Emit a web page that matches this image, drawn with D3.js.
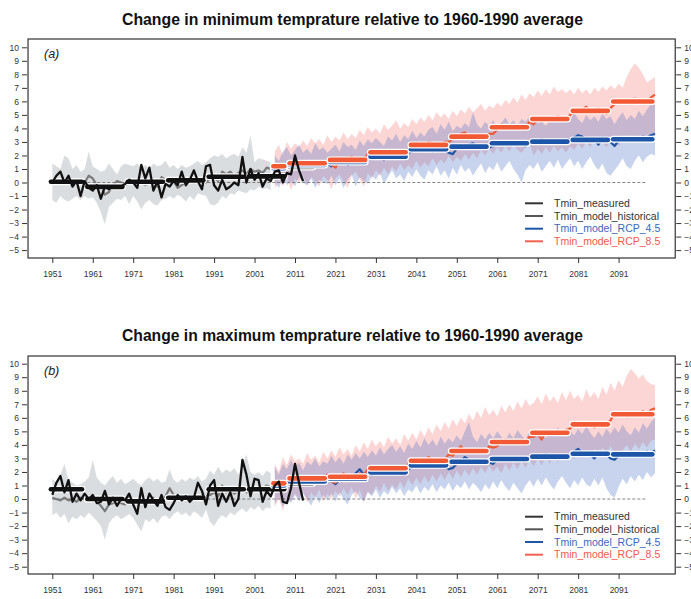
<!DOCTYPE html>
<html><head><meta charset="utf-8">
<script src="https://cdn.jsdelivr.net/npm/d3@7"></script>
<style>body{margin:0;background:#fff}svg{display:block}text{font-family:"Liberation Sans",Arial,sans-serif}</style>
</head><body><svg id="c" width="691" height="599"></svg>
<script>
// ---------------- DATA ----------------
const measStart = 1951, histStart = 1951, rcpStart = 2006;
const xTicks = [1951,1961,1971,1981,1991,2001,2011,2021,2031,2041,2051,2061,2071,2081,2091];
const yTicks = [-5,-4,-3,-2,-1,0,1,2,3,4,5,6,7,8,9,10];
const titles = ["Change in minimum temprature relative to 1960-1990 average","Change in maximum temprature relative to 1960-1990 average"];
const panelLabels = ["(a)","(b)"];
const legendLabels = ["Tmin_measured","Tmin_model_historical","Tmin_model_RCP_4.5","Tmin_model_RCP_8.5"];

// Panel (a) Tmin
const tminMeasured = [0.0,0.5,0.8,0.0,0.5,-0.3,0.1,-1.0,0.1,-0.4,
 -0.6,-0.2,-1.2,-0.3,-0.5,-0.3,-0.4,-0.3,-0.1,0.2,
 0.0,-0.4,1.3,0.3,1.1,-0.6,0.1,-1.1,-0.1,-0.3,
 0.1,-0.2,0.8,-0.2,0.2,0.9,0.1,-0.5,1.2,1.3,
 -0.2,-0.6,0.2,-0.5,-0.3,0.0,-0.2,1.9,0.0,1.0,
 0.2,0.7,-0.3,0.3,0.1,0.8,0.9,0.0,0.7,0.6,
 2.0,0.9,0.1];
const tminHist = [-0.1,0.1,-0.1,0.2,0.0,-0.2,0.1,-0.1,0.0,0.5,
 0.3,-0.2,-0.3,-0.9,-0.7,-0.2,0.1,0.0,-0.2,0.1,
 -0.1,0.2,0.0,-0.2,0.1,-0.1,-0.3,0.4,0.2,0.0,
 0.1,-0.4,-0.2,0.1,0.2,0.0,0.3,0.2,0.0,0.3,
 0.4,0.1,0.8,0.6,0.8,0.5,0.7,0.9,0.6,1.0,
 0.8,0.9,0.7,1.1,1.0];
const tminHistHi = [1.4,1.2,1.0,2.0,1.8,1.0,1.3,0.8,1.0,2.3,
 1.2,1.0,0.8,0.9,1.4,1.0,0.6,1.2,1.4,1.3,
 1.2,1.4,1.1,1.3,1.0,1.4,1.2,1.3,1.6,1.1,
 1.3,1.0,1.3,1.1,1.2,1.4,1.6,1.3,1.5,1.8,
 2.0,1.9,2.1,1.8,2.0,2.1,1.9,2.6,2.2,3.5,
 1.5,1.8,1.7,1.6,1.5];
const tminHistLo = [-1.3,-1.5,-1.0,-1.3,-1.4,-1.2,-1.0,-1.3,-1.0,-1.2,
 -1.1,-1.5,-2.2,-3.1,-1.8,-1.5,-1.2,-1.3,-1.0,-1.6,
 -1.0,-1.4,-2.0,-1.5,-1.3,-1.6,-1.7,-1.3,-1.2,-1.0,
 -1.2,-0.9,-1.1,-1.4,-1.0,-1.3,-0.8,-0.9,-1.0,-1.6,
 -1.7,-1.5,-1.0,-1.2,-0.8,-0.9,-0.6,-0.7,-0.8,-0.5,
 -0.6,-0.3,-0.5,-0.4,-0.6];
const tminRcp45 = [0.9,1.3,1.0,1.2,
 1.5,1.3,1.4,1.1,1.3,1.2,1.4,1.3,1.2,1.4,
 1.2,1.6,1.4,1.7,1.3,1.5,1.6,1.8,1.5,1.7,
 1.8,2.0,1.9,1.7,2.0,2.1,1.9,1.8,2.0,2.2,
 2.3,2.5,2.6,2.4,2.5,2.3,2.6,2.5,2.4,2.2,
 2.1,2.5,2.7,2.6,2.8,2.9,2.7,2.6,2.8,2.6,
 2.7,2.9,3.0,2.8,2.9,3.0,2.8,2.9,2.7,3.0,
 3.0,3.1,3.2,2.9,3.0,3.1,2.9,3.0,3.1,3.2,
 3.3,3.5,3.4,3.1,3.0,3.2,2.8,3.3,3.2,3.0,
 2.7,3.1,3.3,3.2,3.3,3.1,3.2,3.4,3.3,3.5,
 3.6];
const tminRcp45Hi = [2.0,1.6,2.3,2.6,
 2.0,2.4,2.8,2.2,2.5,2.1,2.9,2.4,2.6,2.2,
 2.5,2.8,2.3,3.0,2.6,2.8,2.4,3.1,2.7,3.2,
 2.9,3.3,3.0,2.7,3.4,3.1,3.6,3.0,3.5,3.2,
 3.8,3.3,3.7,3.4,3.9,4.1,3.6,4.3,3.9,4.5,
 3.8,4.2,4.0,4.4,4.1,5.2,4.3,4.0,4.5,4.2,
 4.6,4.1,4.4,4.8,4.3,4.6,4.2,4.7,4.5,4.9,
 4.4,4.8,4.5,4.2,4.6,5.0,4.4,4.7,4.9,4.5,
 5.2,4.7,4.4,5.0,4.6,4.9,4.5,5.1,4.7,4.9,
 4.3,4.8,5.2,4.6,5.0,4.7,5.3,4.9,5.4,5.8,
 6.0];
const tminRcp45Lo = [0.0,-0.4,0.3,-0.2,
 0.1,-0.3,0.4,0.0,-0.2,0.3,-0.4,0.2,0.0,-0.1,
 0.5,-0.2,0.3,-0.4,0.2,0.6,-0.3,0.4,0.1,-0.1,
 0.5,0.2,0.7,-0.1,0.4,0.9,0.3,0.6,0.1,0.8,
 0.4,1.0,0.5,0.2,0.9,0.6,1.2,0.5,0.9,0.3,
 1.1,0.6,1.3,0.8,1.1,0.5,1.0,1.4,0.7,1.2,
 0.9,1.5,0.8,1.2,1.6,1.0,0.6,0.0,0.9,1.3,
 1.0,1.5,0.8,1.2,1.6,1.1,1.7,1.0,1.4,1.8,
 1.2,1.6,1.0,1.5,1.9,1.3,0.9,1.4,0.7,0.5,
 0.9,1.3,1.8,1.2,1.0,1.6,2.0,1.5,1.9,2.1,
 2.0];
const tminRcp85 = [1.0,1.4,1.2,1.3,
 1.5,1.4,1.3,1.6,1.4,1.5,1.3,1.4,1.5,1.6,
 1.3,1.1,1.6,1.8,1.7,1.9,1.6,1.8,1.7,2.1,
 2.3,2.2,2.4,2.1,2.3,2.2,2.1,2.3,2.2,2.5,
 2.5,2.9,2.8,2.7,3.0,2.9,2.7,2.8,3.0,3.0,
 3.2,3.4,3.6,3.7,3.3,3.5,3.2,3.4,3.3,3.6,
 3.6,3.9,4.3,4.0,4.2,4.1,4.2,4.0,4.1,4.5,
 4.3,4.7,4.5,4.8,4.6,4.7,4.9,4.7,4.6,5.0,
 5.3,5.2,5.4,5.6,5.3,5.2,5.5,5.3,5.1,5.5,
 5.8,6.1,5.9,6.0,5.8,6.2,6.0,6.1,5.9,6.3,
 6.5];
const tminRcp85Hi = [2.3,2.8,2.0,3.0,
 2.5,2.9,2.6,3.1,2.7,3.3,2.9,3.2,2.8,3.5,
 3.0,3.4,3.1,3.7,3.2,3.6,3.3,3.9,3.5,4.1,
 3.7,4.0,3.6,4.3,3.9,4.2,4.6,4.0,4.4,4.1,
 4.7,4.3,4.8,4.5,5.0,4.6,5.2,4.8,5.1,4.7,
 5.3,4.9,5.4,5.1,5.6,5.2,5.5,5.8,5.3,5.7,
 5.5,5.9,5.6,6.1,5.8,6.3,5.9,6.5,6.1,6.6,
 6.3,6.8,6.4,6.9,6.5,7.1,6.7,6.9,6.6,6.9,
 6.5,7.0,6.6,6.9,6.5,7.0,6.7,7.1,6.8,7.2,
 6.9,7.3,7.0,7.8,8.4,8.8,8.5,8.0,7.4,7.6,
 7.8];
const tminRcp85Lo = [-0.5,0.2,-0.3,0.4,
 -0.6,0.3,0.0,0.5,-0.2,0.4,0.1,-0.3,0.5,0.2,
 -0.5,0.3,0.6,0.1,-0.4,0.5,0.8,0.2,-0.3,0.7,
 0.3,0.9,0.5,1.1,0.6,1.2,0.8,1.4,0.9,1.3,
 1.0,1.6,1.1,1.5,1.2,1.8,1.3,1.7,1.4,2.0,
 1.5,1.9,1.6,2.1,1.7,2.2,1.8,2.4,2.0,2.5,
 2.1,2.6,2.2,2.7,2.3,2.8,2.4,2.2,2.6,2.9,
 2.0,2.5,2.1,2.6,2.2,2.7,2.3,2.6,2.2,2.7,
 2.4,2.9,2.5,3.0,2.6,3.1,2.7,3.0,2.6,3.1,
 2.9,2.7,3.2,3.5,3.0,3.4,3.1,3.5,3.2,3.6,
 3.7];

// Panel (b) Tmax
const tmaxMeasured = [0.3,1.2,1.7,0.5,1.4,-0.2,0.4,-0.1,0.4,0.0,
 0.3,-0.3,-0.2,0.6,-0.4,0.1,-0.5,0.0,-0.1,0.4,
 -0.4,-1.1,0.8,-0.6,0.4,-0.1,-0.5,0.3,-0.6,-0.8,
 -0.3,0.3,-0.1,0.2,-0.2,0.1,1.2,0.6,-0.4,1.0,
 1.4,-0.5,0.4,-0.2,0.5,-0.5,0.0,2.9,1.8,0.2,
 1.5,1.4,-0.2,0.6,0.2,1.0,1.3,-0.2,-0.3,0.8,
 2.6,1.2,-0.1];
const tmaxHist = [0.1,0.0,-0.1,0.1,-0.1,0.0,-0.2,0.1,0.0,-0.1,
 0.2,-0.2,-0.5,-0.9,-0.4,-0.3,-0.1,-0.3,-0.4,0.1,
 -0.2,0.0,-0.3,-0.1,-0.2,0.1,-0.2,-0.3,0.2,0.8,
 0.3,0.0,0.2,-0.1,0.3,0.2,0.1,0.3,0.2,0.3,
 0.5,0.2,1.0,0.5,0.7,0.4,0.6,0.8,0.5,0.7,
 0.9,0.6,0.8,1.0,0.9];
const tmaxHistHi = [1.5,1.2,1.8,2.6,1.4,1.2,1.0,1.1,1.3,1.6,
 2.9,1.6,1.2,1.0,1.4,1.7,1.2,1.5,1.1,1.3,
 1.5,1.2,1.0,1.4,1.6,1.3,1.5,1.2,1.3,2.2,
 1.4,1.2,1.5,1.3,1.6,1.4,1.7,1.3,1.5,2.1,
 1.8,2.4,1.9,2.2,2.0,2.3,1.8,2.5,3.3,2.0,
 1.8,2.0,1.7,2.1,1.9];
const tmaxHistLo = [-1.2,-1.0,-1.4,-1.1,-1.8,-1.3,-1.5,-1.2,-1.4,-1.0,
 -1.3,-1.6,-2.0,-3.0,-1.8,-1.4,-1.2,-1.5,-1.3,-1.1,
 -1.4,-1.9,-2.4,-1.5,-1.7,-1.4,-1.8,-1.3,-1.2,-1.5,
 -1.1,-0.9,-1.2,-1.0,-1.3,-0.9,-1.1,-1.4,-0.8,-1.7,
 -2.0,-1.5,-1.2,-1.4,-1.0,-1.2,-0.9,-0.7,-1.0,-0.6,
 -0.8,-0.5,-0.9,-0.6,-0.7];
const tmaxRcp45 = [0.9,1.2,0.8,1.1,
 1.4,1.2,1.3,1.1,1.4,1.2,1.5,1.3,1.2,1.4,
 1.3,1.1,1.4,1.6,1.5,1.7,1.9,2.2,1.8,1.9,
 1.8,2.0,2.1,1.9,2.0,2.2,1.9,2.0,1.8,2.2,
 2.4,2.5,2.6,2.5,2.4,2.6,2.5,2.4,2.5,2.2,
 2.3,2.6,2.8,3.1,2.9,2.7,2.8,2.6,2.9,2.7,
 2.6,2.9,3.0,3.1,2.9,3.0,2.8,2.9,3.0,3.1,
 3.0,3.2,3.1,3.3,3.0,3.1,3.2,3.1,3.0,3.2,
 3.5,3.7,3.4,3.2,3.3,3.0,3.4,3.2,3.3,3.0,
 2.9,3.2,3.3,3.4,3.3,3.2,3.4,3.3,3.5,3.4,
 3.6];
const tmaxRcp45Hi = [2.4,1.8,2.6,2.2,
 2.9,2.3,2.7,2.1,2.8,2.5,3.0,2.4,2.8,2.6,
 3.2,2.7,3.1,2.6,3.3,2.9,3.4,3.0,3.5,3.1,
 3.6,3.2,3.8,3.3,3.7,4.0,3.5,3.9,3.4,4.1,
 3.7,4.3,3.8,4.5,4.0,4.4,3.9,4.6,4.1,4.5,
 4.2,4.7,4.3,5.0,5.7,4.6,4.2,4.8,4.4,4.9,
 4.5,5.0,4.6,4.3,4.9,4.5,5.1,4.7,4.4,5.0,
 4.6,5.2,4.8,4.5,5.0,4.7,5.3,4.9,4.6,5.1,
 4.7,5.2,4.8,5.4,4.9,4.5,5.0,4.6,5.2,4.8,
 5.3,4.9,5.5,5.0,4.7,5.3,4.9,5.6,5.2,5.7,
 6.0];
const tmaxRcp45Lo = [-0.4,0.2,-0.6,0.1,
 -0.3,0.3,-0.2,0.4,0.0,-0.5,0.2,-0.3,0.3,-0.1,
 0.4,-0.2,0.5,0.0,-0.4,0.3,0.6,0.1,-0.2,0.5,
 0.2,0.7,0.1,0.6,0.3,0.9,0.4,0.8,0.2,0.7,
 0.5,1.0,0.4,0.9,0.6,1.1,0.5,1.0,0.7,1.2,
 0.6,1.1,0.8,1.3,0.7,1.2,0.9,0.5,1.1,0.7,
 1.3,0.8,1.4,0.9,0.6,1.2,0.8,0.4,1.0,1.4,
 0.9,1.5,1.0,1.6,1.1,0.7,1.3,1.7,1.2,0.8,
 1.4,1.0,1.6,1.1,0.9,1.5,1.0,1.6,0.8,0.3,
 0.1,0.9,1.5,1.1,1.7,1.3,1.8,1.4,2.0,1.6,
 1.9];
const tmaxRcp85 = [1.0,1.3,1.2,1.4,
 1.4,1.6,1.5,1.7,1.4,1.5,1.6,1.5,1.4,1.8,
 1.3,1.2,1.6,1.9,1.7,1.8,1.6,1.9,1.8,2.2,
 2.4,2.2,2.3,2.1,2.4,2.3,2.2,2.4,2.0,2.6,
 2.6,3.0,2.9,2.8,3.1,2.9,2.7,3.0,2.9,3.3,
 3.2,3.6,3.9,3.5,3.7,3.4,3.6,3.5,3.4,3.9,
 3.8,3.9,4.3,4.4,4.2,4.3,4.1,4.4,4.2,4.6,
 4.6,4.8,4.4,5.0,4.9,5.0,4.8,4.9,5.1,5.2,
 5.6,5.4,5.6,5.5,5.7,5.3,5.5,5.4,5.6,5.8,
 6.4,6.2,6.3,6.1,6.4,6.2,6.3,6.5,6.2,6.6,
 6.7];
const tmaxRcp85Hi = [2.6,2.0,3.1,2.5,
 3.3,2.8,3.0,2.6,3.4,2.9,3.2,2.7,3.5,3.0,
 3.6,3.1,3.8,3.3,3.7,3.2,4.0,3.5,4.2,3.7,
 4.4,3.9,4.3,3.8,4.6,4.1,4.5,4.0,4.8,4.3,
 4.9,4.4,5.1,4.6,5.3,4.8,5.5,5.0,5.7,5.2,
 5.9,5.4,6.0,5.6,6.3,5.8,6.5,6.0,6.8,6.2,
 6.6,6.1,6.9,6.4,7.0,6.5,7.2,6.7,7.4,6.9,
 7.1,7.6,7.0,7.8,7.2,7.6,7.1,7.9,7.3,8.0,
 7.4,7.7,7.2,8.1,7.5,7.9,7.4,8.3,7.7,8.6,
 8.0,8.8,8.3,9.1,9.6,9.3,8.9,9.2,8.7,8.5,
 8.4];
const tmaxRcp85Lo = [-0.6,0.1,-0.9,0.2,
 -0.2,0.4,0.0,0.6,-0.3,0.5,0.1,0.7,-0.2,0.4,
 0.0,0.6,0.2,0.8,0.3,0.9,0.0,0.7,-0.2,0.6,
 0.3,1.0,0.5,1.2,0.6,1.1,0.7,1.3,0.8,1.5,
 1.0,1.6,1.1,1.7,1.2,1.8,1.3,1.9,1.4,2.0,
 1.5,2.1,1.6,2.2,1.7,2.3,1.8,2.4,1.9,2.5,
 2.0,2.4,1.9,2.6,2.1,2.7,2.2,2.8,2.3,2.9,
 2.4,3.0,2.5,3.1,2.6,3.2,2.7,3.3,2.8,3.4,
 2.9,3.5,3.0,3.6,3.1,3.7,3.2,3.8,3.3,3.9,
 3.4,3.0,3.6,4.0,3.5,4.1,3.7,4.2,3.8,4.3,
 4.4];

// decadal means
const histPeriods = [[1951,1958],[1960,1968],[1970,1978],[1980,1988],[1990,1998],[2000,2008]];
const recentPeriods = [[2010,2015]];
const rcpPeriods = [[2006,2008],[2010,2018],[2020,2028],[2030,2038],[2040,2048],[2050,2058],[2060,2068],[2070,2078],[2080,2088],[2090,2099]];
const tminMeasDec = [0.06,-0.32,0.06,0.16,0.42,0.45];
const tminRecentDec = [1.15];
const tminRcp45Dec = [1.05,1.3,1.52,1.91,2.46,2.65,2.9,3.02,3.15,3.2];
const tminRcp85Dec = [1.2,1.42,1.67,2.24,2.78,3.39,4.09,4.7,5.3,5.99];
const tmaxMeasDec = [0.72,0.0,-0.17,0.1,0.72,0.72];
const tmaxRecentDec = [1.16];
const tmaxRcp45Dec = [1.0,1.3,1.5,1.97,2.49,2.76,2.96,3.13,3.35,3.3];
const tmaxRcp85Dec = [1.16,1.53,1.65,2.27,2.83,3.55,4.21,4.9,5.52,6.26];

// ---------------- DRAW ----------------
const svg = d3.select("#c");
const x = d3.scaleLinear().domain([1951,2091]).range([52.3,618.6]);
const boxL = x(1945), boxR = x(2105);
const col = {meas:"#111111", hist:"#7a7a7a", b:"#1d56a8", r:"#f25a35",
  grayBand:"#d3d7da", blueBand:"#4a6fc4", redBand:"#f57f7f"};

function series(arr, start){ return arr.map((v,i)=>({yr:start+i, v})); }
function bandSeries(lo, hi, start){ return lo.map((v,i)=>({yr:start+i, lo:v, hi:hi[i]})); }

function drawPanel(p){
  const g = svg.append("g");
  const y = d3.scaleLinear().domain([-5,10]).range(p.yRange);
  // title
  g.append("text").attr("x",352.5).attr("y",p.titleY).attr("text-anchor","middle")
    .attr("font-size",17).attr("font-weight","bold").attr("fill","#111")
    .attr("textLength",461).attr("lengthAdjust","spacingAndGlyphs").text(p.title);
  // bands
  const area = d3.area().x(d=>x(d.yr)).y0(d=>y(d.lo)).y1(d=>y(d.hi));
  g.append("path").datum(bandSeries(p.histLo,p.histHi,histStart)).attr("d",area)
    .attr("fill",col.grayBand).attr("opacity",0.85);
  g.append("path").datum(bandSeries(p.r85Lo,p.r85Hi,rcpStart)).attr("d",area)
    .attr("fill",col.redBand).attr("opacity",0.33);
  g.append("path").datum(bandSeries(p.r45Lo,p.r45Hi,rcpStart)).attr("d",area)
    .attr("fill",col.blueBand).attr("opacity",0.3);
  // zero line
  g.append("line").attr("x1",x(1951)).attr("x2",x(2098)).attr("y1",y(0)).attr("y2",y(0))
    .attr("stroke","#666").attr("stroke-width",0.8).attr("stroke-dasharray","3,2");
  const line = d3.line().x(d=>x(d.yr)).y(d=>y(d.v));
  g.append("path").datum(series(p.hist,histStart)).attr("d",line).attr("fill","none")
    .attr("stroke",col.hist).attr("stroke-width",2.2).attr("stroke-linejoin","round");
  g.append("path").datum(series(p.r45,rcpStart)).attr("d",line).attr("fill","none")
    .attr("stroke",col.b).attr("stroke-width",2.2).attr("stroke-linejoin","round");
  g.append("path").datum(series(p.r85,rcpStart)).attr("d",line).attr("fill","none")
    .attr("stroke",col.r).attr("stroke-width",2.2).attr("stroke-linejoin","round");
  // decadal bars
  function bars(periods, vals, color){
    const d = periods.map((pp,i)=>({a:pp[0]-0.35,b:pp[1]+0.35,v:vals[i]}));
    g.selectAll(null).data(d).enter().append("line")
      .attr("x1",e=>x(e.a)).attr("x2",e=>x(e.b)).attr("y1",e=>y(e.v)).attr("y2",e=>y(e.v))
      .attr("stroke","#fff").attr("stroke-width",7).attr("stroke-linecap","round");
    g.selectAll(null).data(d).enter().append("line")
      .attr("x1",e=>x(e.a)).attr("x2",e=>x(e.b)).attr("y1",e=>y(e.v)).attr("y2",e=>y(e.v))
      .attr("stroke",color).attr("stroke-width",4.6).attr("stroke-linecap","round");
  }
  bars(histPeriods, p.measDec, col.meas);
  bars(recentPeriods, p.recentDec, "#808080");
  bars(rcpPeriods, p.r45Dec, col.b);
  bars(rcpPeriods, p.r85Dec, col.r);
  g.append("path").datum(series(p.meas,measStart)).attr("d",line).attr("fill","none")
    .attr("stroke",col.meas).attr("stroke-width",2.3).attr("stroke-linejoin","round");
  // box
  g.append("rect").attr("x",boxL).attr("y",p.boxTop).attr("width",boxR-boxL).attr("height",p.boxBottom-p.boxTop)
    .attr("fill","none").attr("stroke","#333").attr("stroke-width",1.2);
  // axes
  const fs = 8.5;
  const yl = g.append("g").attr("transform",`translate(${boxL-1},0)`)
    .call(d3.axisLeft(y).tickValues(yTicks).tickSize(5).tickPadding(3));
  const yr = g.append("g").attr("transform",`translate(${boxR+1},0)`)
    .call(d3.axisRight(y).tickValues(yTicks).tickSize(5).tickPadding(3));
  const xa = g.append("g").attr("transform",`translate(0,${p.boxBottom})`)
    .call(d3.axisBottom(x).tickValues(xTicks).tickFormat(d3.format("d")).tickSize(5).tickPadding(8));
  [yl,yr,xa].forEach(a=>{
    a.select(".domain").remove();
    a.selectAll("line").attr("stroke","#333").attr("stroke-width",1);
    a.selectAll("text").attr("font-size",fs).attr("fill","#333")
     .attr("font-family","'Liberation Sans',Arial,sans-serif");
  });
  // panel label
  g.append("text").attr("x",44).attr("y",p.labelY).attr("font-size",12.5).attr("font-style","italic")
    .attr("fill","#222").text(p.label);
  // legend
  const lc = ["#333","#555",col.b,"#f26150"];
  const tc = ["#333","#333","#3a66bd","#f2584a"];
  legendLabels.forEach((t,i)=>{
    const yy = p.legY[i];
    g.append("line").attr("x1",525).attr("x2",543).attr("y1",yy).attr("y2",yy)
      .attr("stroke",lc[i]).attr("stroke-width",2);
    g.append("text").attr("x",554).attr("y",yy).attr("dy","0.35em").attr("font-size",10.5)
      .attr("fill",tc[i]).text(t);
  });
}

drawPanel({title:titles[0], titleY:25, yRange:[250.1,47.3], boxTop:39, boxBottom:258, labelY:58, label:panelLabels[0],
  legY:[203.3,216,228.7,241.3],
  meas:tminMeasured, hist:tminHist, histLo:tminHistLo, histHi:tminHistHi,
  r45:tminRcp45, r45Lo:tminRcp45Lo, r45Hi:tminRcp45Hi, r85:tminRcp85, r85Lo:tminRcp85Lo, r85Hi:tminRcp85Hi,
  measDec:tminMeasDec, recentDec:tminRecentDec, r45Dec:tminRcp45Dec, r85Dec:tminRcp85Dec});
drawPanel({title:titles[1], titleY:341, yRange:[566.7,363.7], boxTop:356, boxBottom:574, labelY:375, label:panelLabels[1],
  legY:[516.7,529.3,542,554.7],
  meas:tmaxMeasured, hist:tmaxHist, histLo:tmaxHistLo, histHi:tmaxHistHi,
  r45:tmaxRcp45, r45Lo:tmaxRcp45Lo, r45Hi:tmaxRcp45Hi, r85:tmaxRcp85, r85Lo:tmaxRcp85Lo, r85Hi:tmaxRcp85Hi,
  measDec:tmaxMeasDec, recentDec:tmaxRecentDec, r45Dec:tmaxRcp45Dec, r85Dec:tmaxRcp85Dec});
</script></body></html>
